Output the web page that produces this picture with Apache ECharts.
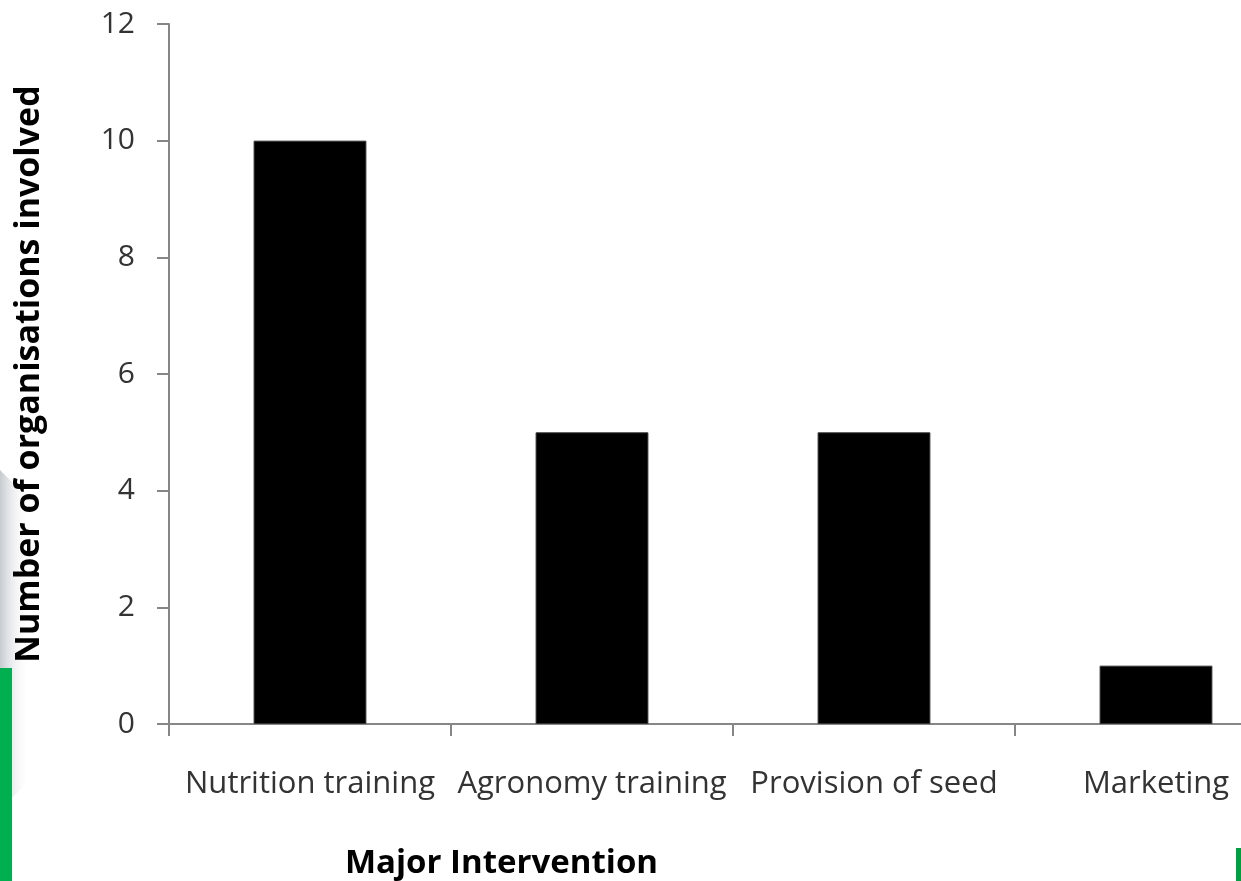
<!DOCTYPE html>
<html>
<head>
<meta charset="utf-8">
<script src="https://cdn.jsdelivr.net/npm/echarts@6/dist/echarts.min.js"></script>
<style>
html,body{margin:0;padding:0;background:#fff;overflow:hidden;width:1241px;height:881px;}
#chart{width:1300px;height:881px;}
</style>
</head>
<body>
<div id="chart"></div>
<script>
const categories = ['Nutrition training', 'Agronomy training', 'Provision of seed', 'Marketing'];
const organisations = [10, 5, 5, 1];
const yTicks = [0, 2, 4, 6, 8, 10, 12];

const chart = echarts.init(document.getElementById('chart'), null, {renderer: 'canvas'});
const font = '"Open Sans", Lato, "DejaVu Sans", sans-serif';
chart.setOption({
  animation: false,
  backgroundColor: '#ffffff',
  graphic: [
    {type: 'polygon', shape: {points: [[0, 470], [30, 500], [30, 780], [0, 810]]},
      style: {fill: new echarts.graphic.LinearGradient(0, 0, 1, 0, [
        {offset: 0, color: 'rgba(150,160,170,0.55)'}, {offset: 1, color: 'rgba(255,255,255,0)'}])}, z: -2},
    {type: 'rect', left: 0, top: 668, shape: {width: 12, height: 213}, style: {fill: '#00b050'}, z: -1},
    {type: 'rect', left: 1236, top: 848, shape: {width: 5, height: 33}, style: {fill: '#00a040'}, z: -1}
  ],
  title: {
    text: 'Major Intervention',
    left: 340,
    top: 842,
    textStyle: {fontFamily: font, fontSize: 33, fontWeight: 'bold', color: '#000'}
  },
  grid: {left: 169, top: 24, width: 1128, height: 700, containLabel: false},
  xAxis: {
    type: 'category',
    data: categories,
    axisLine: {lineStyle: {color: '#868686', width: 2}},
    axisTick: {show: true, length: 12, alignWithLabel: false, lineStyle: {color: '#868686', width: 2}},
    axisLabel: {margin: 45, fontFamily: font, fontSize: 31, color: '#333', interval: 0}
  },
  yAxis: {
    type: 'value',
    min: 0, max: 12, interval: 2,
    name: 'Number of organisations involved',
    nameLocation: 'middle',
    nameGap: 123,
    nameTextStyle: {fontFamily: font, fontSize: 34, fontWeight: 'bold', color: '#000'},
    axisLine: {show: true, lineStyle: {color: '#868686', width: 2}},
    axisTick: {show: true, length: 12, lineStyle: {color: '#868686', width: 2}},
    axisLabel: {margin: 34, fontFamily: font, fontSize: 30, color: '#333',
      formatter: v => yTicks.includes(v) ? String(v) : ''},
    splitLine: {show: false}
  },
  series: [{
    type: 'bar',
    data: organisations,
    barWidth: '40%',
    itemStyle: {color: '#000', borderColor: '#333', borderWidth: 1}
  }]
});
</script>
</body>
</html>
